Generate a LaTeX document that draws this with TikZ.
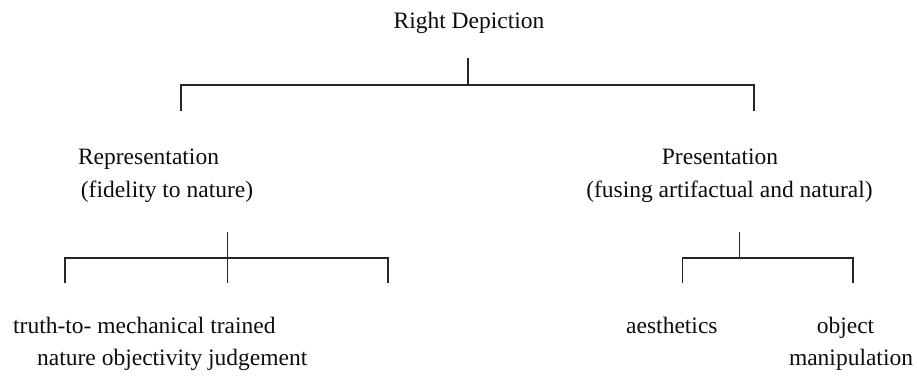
\documentclass[tikz,border=0pt]{standalone}
\usepackage{fontspec}
\setmainfont{Liberation Serif}
\begin{document}
\begin{tikzpicture}[x=1pt,y=-1pt,
  lbl/.style={inner sep=0pt,anchor=base,font=\fontsize{23.5}{32}\selectfont,text=black!95},
  lblw/.style={lbl,anchor=base west},
  tree/.style={line width=1.5pt,draw=black!85,line cap=butt,line join=miter}]
\useasboundingbox (0,0) rectangle (917,376);
% texts
\node[lbl] (root) at (469,28) {Right Depiction};
\node[lbl] (rep) at (148.5,164) {Representation};
\node[lbl] (repsub) at (167,197) {(fidelity to nature)};
\node[lbl] (pre) at (720,164) {Presentation};
\node[lbl] (presub) at (729.5,197) {(fusing artifactual and natural)};
\node[lblw] (l1) at (13,333) {truth-to- mechanical trained};
\node[lblw] (l2) at (37,365) {nature objectivity judgement};
\node[lblw] (aes) at (626,333) {aesthetics};
\node[lbl] (obj) at (845.5,333) {object};
\node[lbl] (man) at (851,365) {manipulation};
% top bracket
\coordinate (t0) at (468,58);
\coordinate (t1) at (468,85);
\coordinate (tl) at (181,85);
\coordinate (tr) at (754,85);
\coordinate (tlb) at (181,111);
\coordinate (trb) at (754,111);
\draw[tree] (t0) -- (t1);
\draw[tree] (tlb) -- (tl) -- (tr) -- (trb);
% left bracket
\coordinate (a0) at (227.5,232);
\coordinate (a1) at (227.5,258);
\coordinate (al) at (65,258);
\coordinate (ar) at (388,258);
\coordinate (alb) at (65,283);
\coordinate (amb) at (227.5,283);
\coordinate (arb) at (388,283);
\draw[tree] (a0) -- (amb);
\draw[tree] (alb) -- (al) -- (ar) -- (arb);
% right bracket
\coordinate (b0) at (739.5,232);
\coordinate (b1) at (739.5,258);
\coordinate (bl) at (682.5,258);
\coordinate (br) at (853,258);
\coordinate (blb) at (682.5,283);
\coordinate (brb) at (853,283);
\draw[tree] (b0) -- (b1);
\draw[tree] (blb) -- (bl) -- (br) -- (brb);
\end{tikzpicture}
\end{document}
